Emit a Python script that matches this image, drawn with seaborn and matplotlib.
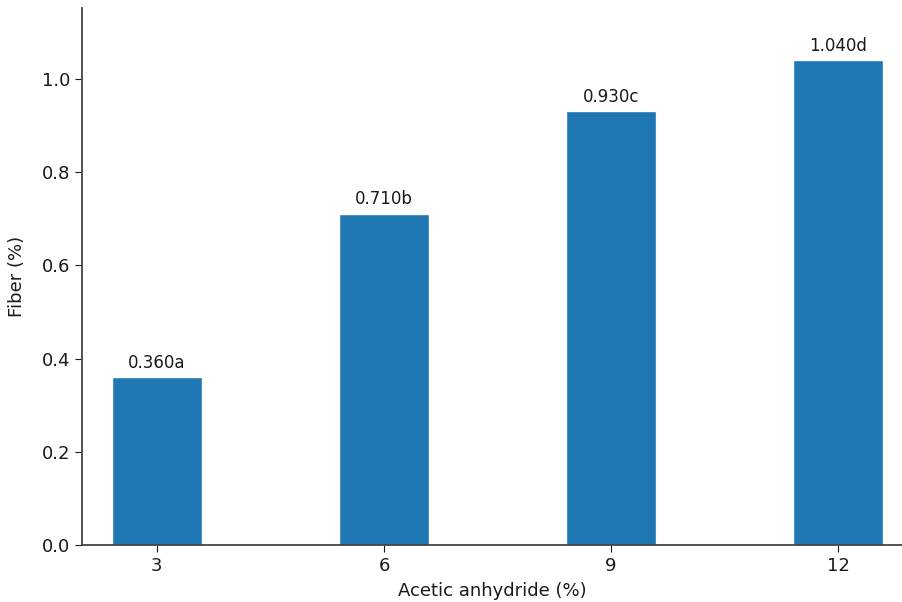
import matplotlib
matplotlib.use("Agg")
import matplotlib.pyplot as plt
import seaborn as sns
import pandas as pd

# Fiber content by acetic anhydride level, with significance letters
anhydride = ["3", "6", "9", "12"]
fiber = [0.360, 0.710, 0.930, 1.040]
letters = ["a", "b", "c", "d"]

df = pd.DataFrame({"Acetic anhydride (%)": anhydride, "Fiber (%)": fiber})

sns.set_style("ticks")
plt.rcParams["font.family"] = ["DejaVu Sans"]

fig = plt.figure(figsize=(9.03, 6.02), dpi=100)
ax = fig.add_axes([82 / 903, (602 - 545) / 602, (903 - 82) / 903, (545 - 8) / 602])

sns.barplot(data=df, x="Acetic anhydride (%)", y="Fiber (%)", color="#1f77b4",
            saturation=1, width=0.4, ax=ax)

for i, (v, l) in enumerate(zip(fiber, letters)):
    ax.annotate(f"{v:.3f}{l}", (i, v), xytext=(0, 4), textcoords="offset points",
                ha="center", va="bottom", fontsize=12, color="#1a1a1a")

ax.set_xlim(-0.33, 3.286)
ax.set_ylim(0, 1.152)
ax.set_yticks([0.0, 0.2, 0.4, 0.6, 0.8, 1.0])
ax.tick_params(labelsize=13, colors="#1a1a1a", length=5)
ax.set_xlabel("Acetic anhydride (%)", fontsize=13, color="#1a1a1a", labelpad=5)
ax.set_ylabel("Fiber (%)", fontsize=13, color="#1a1a1a", labelpad=11)
for s in ("left", "bottom"):
    ax.spines[s].set_color("#444444")
    ax.spines[s].set_linewidth(1.3)
sns.despine(ax=ax)

fig.savefig("out.png", dpi=100)
